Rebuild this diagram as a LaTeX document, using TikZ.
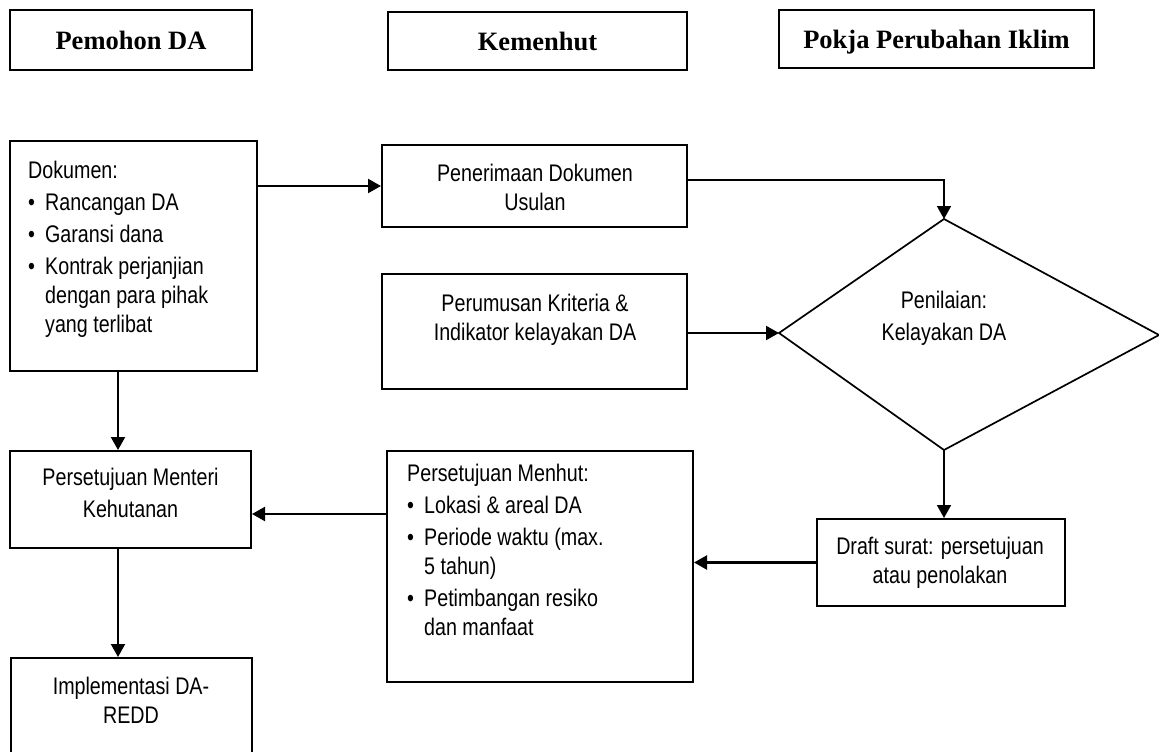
\documentclass[tikz,border=0pt]{standalone}
\usepackage{fontspec}
\setmainfont{Liberation Serif}
\newfontfamily\narrowsans[FakeStretch=0.82]{Liberation Sans}
\usetikzlibrary{arrows.meta,calc}
\begin{document}
\begin{tikzpicture}[x=1pt,y=-1pt,
  box/.style={draw, line width=2pt, inner sep=0pt},
  head/.style={font=\bfseries\fontsize{26.5}{30}\selectfont, text depth=0pt},
  body/.style={font=\narrowsans\fontsize{24}{29}\selectfont, inner sep=0pt},
  arr/.style={line width=2.2pt, -{Triangle[length=13pt,width=14pt]}}
]
\clip (0,0) rectangle (1159,752);
\fill[white] (0,0) rectangle (1159,752);

% header boxes
\node[box,head,minimum width=242pt,minimum height=60pt] (hPem) at (131,40) {Pemohon DA};
\node[box,head,minimum width=299pt,minimum height=58pt] (hKem) at (537.5,41) {Kemenhut};
\node[box,head,minimum width=315pt,minimum height=58pt] (hPok) at (936.5,39) {Pokja Perubahan Iklim};

% boxes
\node[box,minimum width=247pt,minimum height=230pt] (bDok) at (133.5,256) {};
\node[box,minimum width=305pt,minimum height=82pt] (bPen) at (534.5,186) {};
\node[box,minimum width=305pt,minimum height=115pt] (bPer) at (534.5,331.5) {};
\node[box,minimum width=241pt,minimum height=97pt] (bMent) at (130.5,499.5) {};
\node[box,minimum width=306pt,minimum height=231pt] (bMen) at (540,566.5) {};
\node[box,minimum width=248pt,minimum height=87pt] (bDraft) at (941,562.5) {};
\node[box,minimum width=241pt,minimum height=122pt] (bImp) at (131.5,719) {};

% diamond
\coordinate (dT) at (944,219);
\coordinate (dL) at (779,333);
\coordinate (dB) at (944,450);
\coordinate (dR) at (1159,335);
\draw[line width=1.7pt] (dT) -- (dR) -- (dB) -- (dL) -- cycle;

% texts (anchor = baseline of last line)
\node[body,anchor=base west,align=left] (tDok) at (28,332)
  {Dokumen:\\[3pt]\makebox[17pt][l]{•}Rancangan DA\\[3pt]\makebox[17pt][l]{•}Garansi dana\\[3pt]\makebox[17pt][l]{•}Kontrak perjanjian\\\hspace*{17pt}dengan para pihak\\\hspace*{17pt}yang terlibat};
\node[body,anchor=base,align=center] (tPen) at (535,210) {Penerimaan Dokumen\\Usulan};
\node[body,anchor=base,align=center] (tPer) at (535,340) {Perumusan Kriteria \&\\Indikator kelayakan DA};
\node[body,anchor=base,align=center] (tDia) at (944,340) {Penilaian:\\[3pt]Kelayakan DA};
\node[body,anchor=base,align=center] (tMent) at (130.5,517) {Persetujuan Menteri\\[3pt]Kehutanan};
\node[body,anchor=base west,align=left] (tMen) at (407,635)
  {Persetujuan Menhut:\\[3pt]\makebox[17pt][l]{•}Lokasi \& areal DA\\[3pt]\makebox[17pt][l]{•}Periode waktu (max.\\\hspace*{17pt}5 tahun)\\[3pt]\makebox[17pt][l]{•}Petimbangan resiko\\\hspace*{17pt}dan manfaat};
\node[body,anchor=base,align=center] (tDraft) at (940,583) {Draft surat: persetujuan\\atau penolakan};
\node[body,anchor=base,align=center] (tImp) at (131,723) {Implementasi DA-\\REDD};

% connectors
\draw[arr] (bDok.east |- bPen.west) -- (bPen.west);
\draw[arr,line width=1.7pt] ([yshift=6pt]bPen.east) -| (dT);
\draw[arr] (bPer.east |- dL) -- (dL);
\draw[arr,line width=1.7pt] (dB) -- (dB |- bDraft.north);
\draw[arr] (bDraft.west) -- (bDraft.west -| bMen.east);
\draw[arr] (bMen.west |- 0,514) -- (bMent.east |- 0,514);
\draw[arr] (118,0 |- bDok.south) -- (118,0 |- bMent.north);
\draw[arr] (118,0 |- bMent.south) -- (118,0 |- bImp.north);
\end{tikzpicture}
\end{document}
